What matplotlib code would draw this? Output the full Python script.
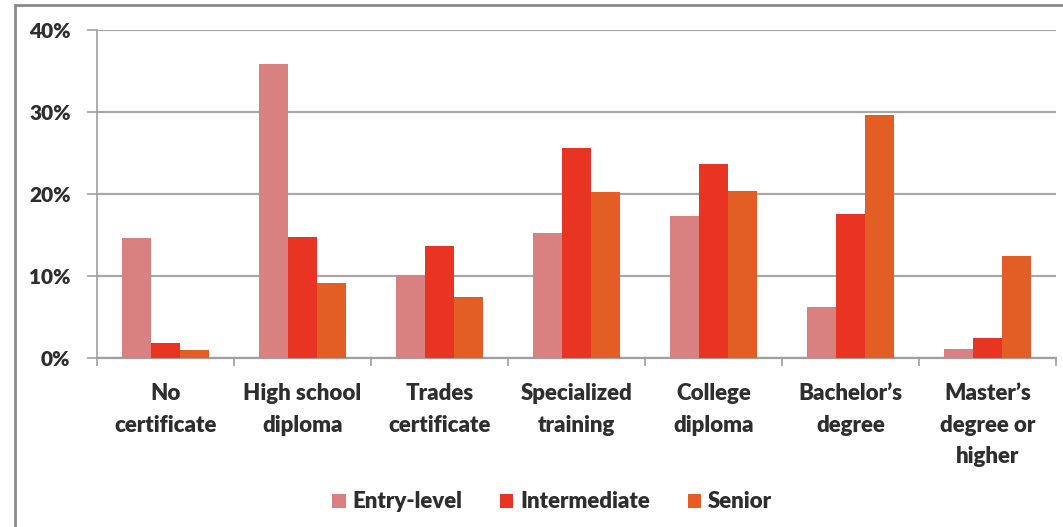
import matplotlib
matplotlib.use("Agg")
import matplotlib.pyplot as plt
import numpy as np
from matplotlib.patches import Rectangle
from matplotlib.ticker import PercentFormatter, FixedLocator

categories = ["No\ncertificate", "High school\ndiploma", "Trades\ncertificate",
              "Specialized\ntraining", "College\ndiploma", "Bachelor\u2019s\ndegree",
              "Master\u2019s\ndegree or\nhigher"]
series_names = ["Entry-level", "Intermediate", "Senior"]
entry_level = [14.6, 35.9, 10.1, 15.3, 17.3, 6.2, 1.1]
intermediate = [1.8, 14.8, 13.7, 25.6, 23.6, 17.6, 2.4]
senior = [1.0, 9.2, 7.4, 20.2, 20.4, 29.6, 12.4]
y_ticks = [0, 10, 20, 30, 40]

colors = ["#D98080", "#EA3423", "#E35E25"]
FONT = ["Lato", "DejaVu Sans"]
plt.rcParams['font.family'] = FONT
WEIGHT = "heavy"

W, H = 1063, 527
fig = plt.figure(figsize=(W / 100, H / 100), dpi=100)
fig.patch.set_facecolor("white")

# outer border (left and top visible)
fig.patches.append(Rectangle((15 / W, -0.05), 1.2, 1 - 5 / H + 0.05, transform=fig.transFigure,
                             fill=False, edgecolor="#8a8a8a", linewidth=2))

left, right, top, bottom = 97, 1056, 30, 358
ax = fig.add_axes([left / W, 1 - bottom / H, (right - left) / W, (bottom - top) / H])

x = np.arange(len(categories))
bw = 0.212
for i, (vals, name) in enumerate(zip([entry_level, intermediate, senior], series_names)):
    ax.bar(x + (i - 1) * bw, vals, width=bw, color=colors[i], label=name, zorder=3)

ax.set_xlim(-0.5, len(categories) - 0.5)
ax.set_ylim(0, 40)
ax.set_yticks(y_ticks)
ax.yaxis.set_major_formatter(PercentFormatter(decimals=0))
ax.grid(axis="y", color="#a8a8a8", linewidth=1.6, zorder=0)
ax.set_axisbelow(True)

for s in ["top", "right"]:
    ax.spines[s].set_visible(False)
ax.spines["left"].set_color("#a0a0a0")
ax.spines["left"].set_linewidth(1.2)
ax.spines["bottom"].set_color("#a0a0a0")
ax.spines["bottom"].set_linewidth(1.6)

ax.set_xticks(x)
ax.set_xticklabels(categories, fontsize=16, fontweight=WEIGHT, color="#2e2e2e", linespacing=1.62, va="top")
ax.tick_params(axis="x", which="major", length=0, pad=18)
ax.xaxis.set_minor_locator(FixedLocator(np.arange(-0.5, len(categories), 1.0)))
ax.tick_params(axis="x", which="minor", length=6, color="#a0a0a0", width=1.2, direction="out")
ax.tick_params(axis="y", length=7, color="#a0a0a0", width=1.2, pad=12, labelsize=15, labelcolor="#2e2e2e")
for lbl in ax.get_yticklabels():
    lbl.set_fontweight(WEIGHT)

fig.legend(loc="center", bbox_to_anchor=(552 / W, 1 - 502 / H), ncol=3, frameon=False,
           prop={"family": FONT, "weight": WEIGHT, "size": 16}, handlelength=0.6, handleheight=0.6,
           handletextpad=0.3, columnspacing=1.7, labelcolor="#2e2e2e")

fig.savefig("out.png", dpi=100, facecolor="white")
